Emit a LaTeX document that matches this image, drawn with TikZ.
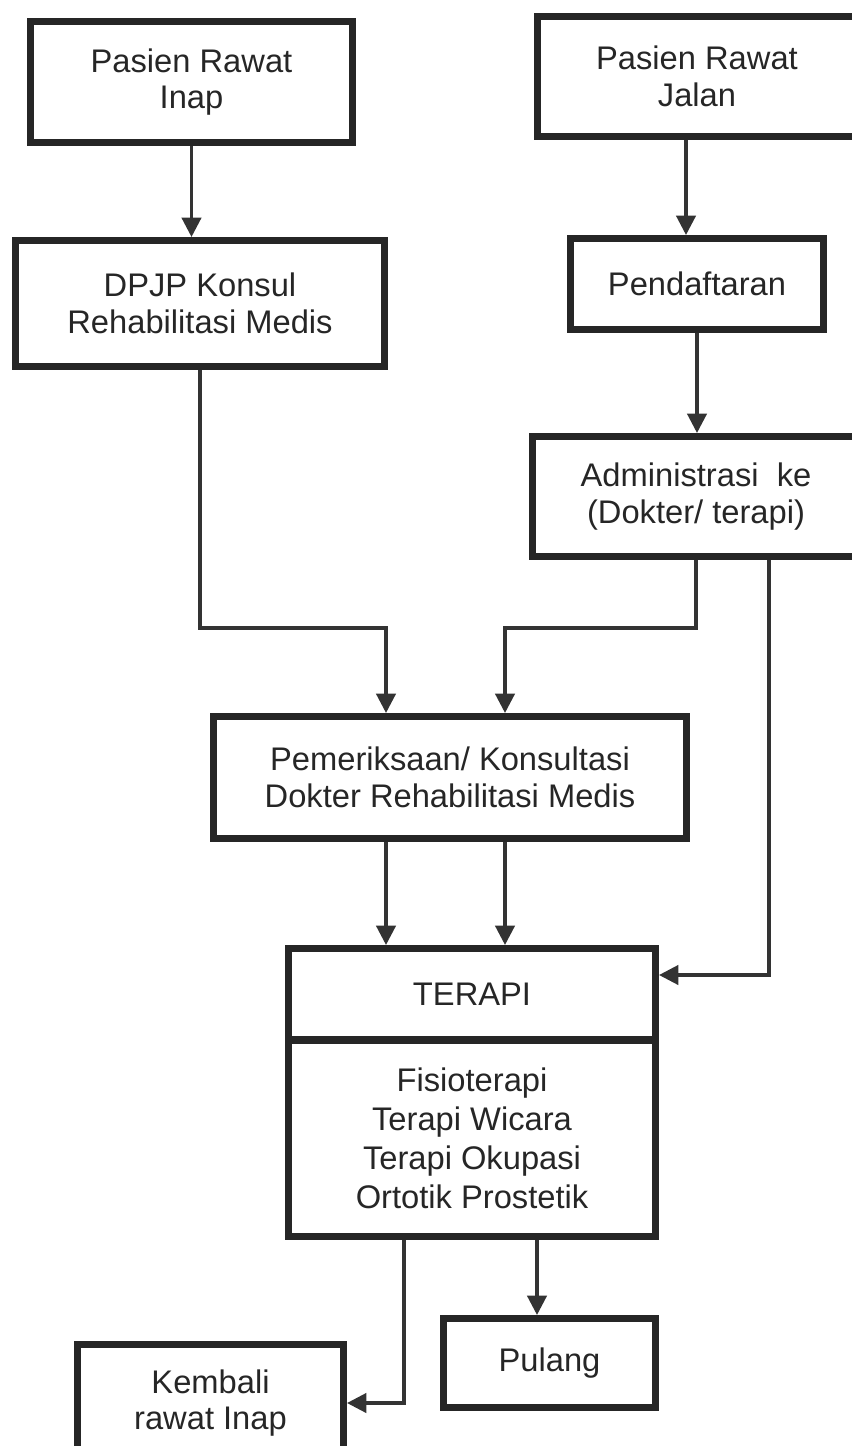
\documentclass[tikz,border=0pt]{standalone}
\usepackage{fontspec}
\setmainfont{Liberation Sans}
\usepackage{xcolor}
\usetikzlibrary{arrows.meta}
\usetikzlibrary{positioning}

\begin{document}
\begin{tikzpicture}[
            kotak/.style={draw=black!85, line width=2pt, inner sep=0pt, align=center, text=black!85,
                font=\fontsize{9.3}{10.5}\selectfont},
            panah/.style={draw=black!80, line width=0.9pt, -{Triangle[length=5.5pt, width=5.5pt]}},
            garis/.style={draw=black!80, line width=0.9pt}
        ]
            \useasboundingbox (0,0) rectangle (8.51,-14.46);

            % kolom kiri dan kanan atas
            \node[kotak, minimum width=3.22cm, minimum height=1.21cm] (inap) at (1.915,-0.82) {Pasien Rawat\\Inap};
            \node[kotak, minimum width=3.19cm, minimum height=1.20cm] (jalan) at (6.97,-0.765) {Pasien Rawat\\Jalan};
            \node[kotak, minimum width=3.69cm, minimum height=1.26cm] (dpjp) at (2.00,-3.035) {DPJP Konsul\\Rehabilitasi Medis};
            \node[kotak, minimum width=2.53cm, minimum height=0.91cm] (daftar) at (6.97,-2.84) {Pendaftaran};
            \node[kotak, minimum width=3.27cm, minimum height=1.20cm] (admin) at (6.96,-4.965) {Administrasi\ \ ke\\(Dokter/ terapi)};

            % pemeriksaan dan terapi
            \node[kotak, minimum width=4.73cm, minimum height=1.22cm] (periksa) at (4.50,-7.775) {Pemeriksaan/ Konsultasi\\Dokter Rehabilitasi Medis};
            \node[kotak, minimum width=3.67cm, minimum height=0.915cm] (terapi) at (4.72,-9.9425) {TERAPI};
            \node[kotak, minimum width=3.67cm, minimum height=1.965cm, font=\fontsize{9.3}{11.1}\selectfont] (jenis) at (4.72,-11.3825) {Fisioterapi\\Terapi Wicara\\Terapi Okupasi\\Ortotik Prostetik};

            % keluar
            \node[kotak, minimum width=2.12cm, minimum height=0.89cm] (pulang) at (5.495,-13.63) {Pulang};
            \node[kotak, minimum width=2.66cm, minimum height=1.17cm] (kembali) at (2.105,-14.03) {Kembali\\rawat Inap};

            \coordinate (kiri) at (3.86,-6.28);
            \coordinate (kanan) at (5.05,-6.28);
            \coordinate (tepi) at (7.69,-9.75);
            \coordinate (turun) at (5.37,-12.8);
            \coordinate (belok) at (4.04,-13.96);

            \draw[panah] (inap.south) -- (inap.south |- dpjp.north);
            \draw[panah] ([xshift=-0.11cm]jalan.south) -- ([xshift=-0.11cm]daftar.north);
            \draw[panah] (daftar.south) -- (daftar.south |- admin.north);
            \draw[panah] (dpjp.south) |- (kiri) -- (kiri |- periksa.north);
            \draw[panah] (admin.south) |- (kanan) -- (kanan |- periksa.north);
            \draw[panah] (tepi |- admin.south) -- (tepi) -- (tepi -| terapi.east);
            \draw[panah] (kiri |- periksa.south) -- (kiri |- terapi.north);
            \draw[panah] (kanan |- periksa.south) -- (kanan |- terapi.north);
            \draw[panah] (turun |- jenis.south) -- (turun |- pulang.north);
            \draw[panah] (belok |- jenis.south) |- (kembali.east);
        \end{tikzpicture}
\end{document}
